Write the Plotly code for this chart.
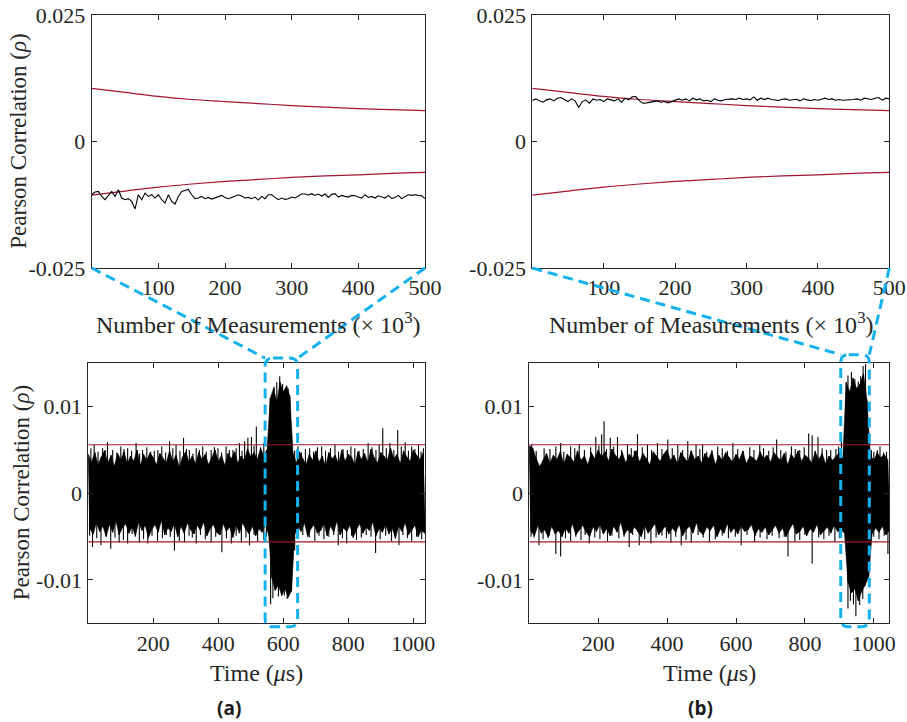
import plotly.graph_objects as go

W, H = 907, 722

# ---------------- data ----------------
# Top panels: number of measurements (x 10^3)
N_MEAS = list(range(0, 505, 5))
N_THR = [0, 50, 100, 150, 200, 250, 300, 350, 400, 450, 500]
THR_UP = [0.0105, 0.0097, 0.0089, 0.0083, 0.0079, 0.0075, 0.0071, 0.0068, 0.0065, 0.0063, 0.0061]
THR_LO = [-0.0106, -0.0098, -0.0090, -0.0084, -0.0079, -0.0075, -0.0071, -0.0068, -0.0066, -0.0063, -0.0061]

RHO_A = [-0.01052, -0.00999, -0.00987, -0.01085, -0.01150, -0.01065, -0.00987, -0.01085, -0.00953, -0.01117,
         -0.01150, -0.01130, -0.01184, -0.01334, -0.01052, -0.01150, -0.01019, -0.01085, -0.01052, -0.01117,
         -0.01052, -0.01150, -0.01216, -0.01052, -0.01184, -0.01236, -0.01085, -0.00987, -0.00973, -0.00947,
         -0.01052, -0.01130, -0.01117, -0.01085, -0.01130, -0.01105, -0.01137, -0.01117, -0.01085, -0.01065,
         -0.01105, -0.01130, -0.01105, -0.01085, -0.01052, -0.01078, -0.01117, -0.01105, -0.01130, -0.01098,
         -0.01157, -0.01085, -0.01130, -0.01052, -0.01052, -0.01105, -0.01150, -0.01117, -0.01144, -0.01130,
         -0.01098, -0.01117, -0.01078, -0.01038, -0.01038, -0.01058, -0.01032, -0.01065, -0.01038, -0.01078,
         -0.01038, -0.01105, -0.01045, -0.01032, -0.01098, -0.01065, -0.01085, -0.01098, -0.01065, -0.01072,
         -0.01098, -0.01117, -0.01052, -0.01105, -0.01085, -0.01117, -0.01072, -0.01091, -0.01117, -0.01065,
         -0.01124, -0.01105, -0.01065, -0.01130, -0.01085, -0.01052, -0.01065, -0.01052, -0.01065, -0.01072,
         -0.01130]

RHO_B = [0.00809, 0.00842, 0.00803, 0.00777, 0.00823, 0.00842, 0.00803, 0.00856, 0.00868, 0.00823,
         0.00789, 0.00842, 0.00803, 0.00671, 0.00789, 0.00823, 0.00757, 0.00842, 0.00816, 0.00829,
         0.00789, 0.00842, 0.00816, 0.00803, 0.00842, 0.00777, 0.00856, 0.00823, 0.00882, 0.00888,
         0.00803, 0.00757, 0.00763, 0.00777, 0.00789, 0.00803, 0.00777, 0.00789, 0.00763, 0.00789,
         0.00829, 0.00842, 0.00816, 0.00842, 0.00803, 0.00856, 0.00823, 0.00842, 0.00803, 0.00816,
         0.00789, 0.00842, 0.00816, 0.00803, 0.00829, 0.00836, 0.00842, 0.00829, 0.00856, 0.00829,
         0.00842, 0.00823, 0.00882, 0.00816, 0.00856, 0.00829, 0.00856, 0.00829, 0.00823, 0.00809,
         0.00836, 0.00842, 0.00816, 0.00829, 0.00836, 0.00803, 0.00842, 0.00823, 0.00809, 0.00829,
         0.00816, 0.00836, 0.00856, 0.00829, 0.00842, 0.00816, 0.00829, 0.00816, 0.00816, 0.00823,
         0.00829, 0.00842, 0.00816, 0.00856, 0.00842, 0.00829, 0.00856, 0.00868, 0.00816, 0.00856,
         0.00842]

# Bottom panels: time (us). Local maxima (at t) and minima (at t + 5 us) of the trace, every 10 us,
# in units of 1e-4
T_A = list(range(0, 1040, 10))
HI_A = [45, 36, 47, 33, 42, 49, 35, 44, 31, 46,
        39, 48, 34, 43, 37, 50, 32, 45, 38, 47,
        41, 33, 46, 40, 35, 49, 37, 44, 30, 42,
        48, 36, 43, 34, 47, 39, 45, 33, 41, 50,
        37, 44, 32, 46, 40, 48, 35, 43, 38, 51,
        42, 47, 39, 52, 44, 50,
        110, 121, 105, 128, 117, 124, 112,
        46, 35, 48, 40, 33, 45, 38, 49, 36, 43,
        31, 47, 40, 44, 34, 50, 37, 45, 42, 33,
        48, 39, 46, 36, 51, 41, 35, 47, 43, 38,
        52, 40, 45, 34, 49, 42, 37, 50, 44, 39,
        46]
LO_A = [-41, -47, -34, -44, -38, -50, -36, -45, -32, -48,
        -40, -35, -46, -39, -49, -33, -43, -37, -51, -42,
        -36, -45, -31, -48, -40, -44, -35, -50, -38, -46,
        -34, -42, -47, -37, -43, -33, -49, -41, -36, -45,
        -48, -35, -44, -39, -51, -37, -46, -34, -42, -47,
        -38, -49, -41, -45, -36, -48,
        -98, -112, -106, -118, -110, -120, -113,
        -47, -39, -44, -34, -50, -41, -36, -46, -43, -35,
        -49, -38, -45, -32, -48, -40, -44, -37, -51, -42,
        -35, -46, -39, -43, -33, -49, -41, -45, -36, -47,
        -40, -52, -38, -44, -34, -48, -42, -37, -50, -43,
        -46]
# prominent spikes: time (us) and value (units of 1e-3)
SPK_A_T = [8, 18, 44, 59, 75, 100, 121, 147, 167, 203, 226, 250, 270, 293, 311, 332, 352, 378, 399, 424,
           445, 465, 481, 491, 502, 517, 553, 565, 572, 580, 589, 598, 607, 615,
           645, 681, 718, 759, 784, 820, 861, 906, 928, 952, 975, 995, 1016, 1031,
           13, 39, 69, 95, 121, 157, 183, 213, 265, 296, 332, 378, 411, 440, 471, 496, 521,
           561, 568, 585, 603, 612, 635,
           697, 769, 795, 884, 933, 956, 995, 1026]
SPK_A_V = [5.2, 5.6, 5.2, 5.9, 5.0, 5.4, 5.2, 5.8, 5.0, 4.9, 5.4, 6.0, 5.6, 6.4, 5.0, 5.2, 5.4, 5.0, 5.2, 5.4,
           5.0, 5.8, 6.0, 6.4, 6.5, 7.7, 5.2, 11.2, 12.3, 12.8, 13.5, 12.6, 11.8, 12.1,
           5.4, 5.2, 5.4, 5.6, 5.1, 5.2, 5.8, 7.5, 5.8, 7.3, 5.9, 5.4, 5.6, 5.2,
           -6.2, -6.0, -6.4, -5.7, -5.8, -5.7, -5.8, -5.5, -6.6, -5.7, -5.8, -5.7, -6.8, -5.8, -5.7, -6.0, -5.5,
           -12.8, -12.1, -11.9, -11.8, -12.2, -6.6,
           -5.5, -6.0, -5.8, -6.9, -5.5, -6.0, -5.5, -5.3]
# smaller spikes poking out of the band
MIN_A_T = [30, 52, 88, 110, 133, 158, 180, 192, 214, 238, 260, 282, 302, 322, 342, 363, 388, 410, 434, 455,
           473, 510, 530, 540, 548, 635, 656, 668, 693, 705, 730, 745, 770, 797, 808, 833, 846, 873, 885, 895,
           917, 940, 963, 985, 1005, 1024,
           4, 26, 55, 82, 108, 135, 145, 170, 196, 228, 240, 252, 280, 310, 320, 345, 360, 392, 400, 425,
           455, 485, 510, 540, 548, 645, 660, 680, 710, 725, 740, 755, 782, 810, 825, 840, 855, 870, 898, 915,
           945, 968, 982, 1010]
MIN_A_V = [4.8, 5.0, 4.7, 5.1, 4.9, 4.6, 5.3, 4.8, 5.0, 4.7, 5.2, 4.9, 5.1, 4.6, 5.0, 4.8, 5.3, 4.7, 5.0, 5.2,
           4.9, 5.5, 5.3, 5.8, 5.0, 4.9, 4.7, 5.1, 4.8, 5.3, 4.9, 5.2, 4.8, 5.0, 5.4, 4.9, 5.1, 5.3, 5.0, 5.6,
           5.2, 5.0, 5.4, 4.9, 5.1, 4.8,
           -4.9, -5.2, -4.8, -5.1, -5.4, -4.7, -5.0, -5.3, -4.9, -5.2, -4.8, -5.0, -5.5, -4.9, -5.1, -4.8,
           -5.3, -5.0, -4.7, -5.2, -4.9, -5.1, -4.8, -5.4, -5.0, -5.2, -4.8, -5.1, -4.9, -5.3, -5.0, -4.8,
           -5.2, -4.9, -5.4, -5.1, -4.8, -5.0, -5.3, -4.9, -5.1, -4.8, -5.2, -5.0]

T_B = list(range(0, 1050, 10))
HI_B = [55, 52, 40, 31, 38, 46, 35, 44, 39, 48,
        34, 45, 41, 36, 49, 38, 43, 33, 47, 40,
        50, 42, 48, 37, 51, 44, 39, 47, 35, 45,
        41, 49, 36, 46, 40, 33, 48, 42, 37, 45,
        50, 38, 44, 34, 47, 41, 36, 49, 39, 43,
        35, 46, 40, 48, 33, 44, 38, 47, 42, 36,
        45, 39, 49, 34, 43, 41, 37, 48, 40, 44,
        36, 47, 42, 38, 46, 33, 45, 40, 49, 37,
        44, 41, 35, 48, 39, 46, 34, 43, 38, 42,
        47, 40,
        128, 117, 133, 121, 126, 138, 108,
        44, 38, 47, 41, 45, 39]
LO_B = [-44, -49, -37, -46, -42, -51, -38, -47, -43, -50,
        -40, -46, -35, -48, -42, -37, -45, -50, -39, -44,
        -36, -47, -41, -49, -38, -45, -33, -48, -42, -46,
        -39, -44, -50, -37, -46, -41, -35, -48, -43, -38,
        -47, -40, -45, -36, -49, -42, -38, -46, -34, -44,
        -48, -39, -43, -37, -50, -41, -46, -35, -45, -40,
        -47, -38, -44, -42, -36, -49, -41, -45, -39, -48,
        -43, -37, -46, -40, -50, -42, -35, -47, -44, -38,
        -49, -41, -45, -36, -48, -43, -39, -46, -37, -44,
        -42, -46,
        -102, -115, -110, -124, -113, -106, -96,
        -47, -40, -45, -38, -48, -43]
SPK_B_T = [7, 43, 77, 91, 120, 145, 193, 210, 217, 235, 256, 285, 314, 343, 372, 402, 431, 460, 484, 503,
           547, 591, 640, 669, 718, 761, 785, 811, 821, 838, 863, 906, 925, 935, 945, 955, 962, 969, 976,
           993, 1018, 1037,
           14, 28, 77, 91, 120, 174, 227, 290, 319, 353, 411, 441, 470, 523, 615, 654, 751, 771, 821,
           887, 925, 932, 941, 948, 959, 968, 1041]
SPK_B_V = [5.7, 5.2, 5.4, 5.8, 5.4, 5.7, 6.5, 6.8, 8.3, 6.4, 6.5, 5.6, 6.8, 5.6, 5.8, 6.2, 5.6, 6.0, 5.6, 5.6,
           5.4, 5.8, 5.3, 5.6, 6.2, 5.4, 5.0, 6.9, 6.7, 6.5, 5.0, 6.7, 13.6, 14.0, 13.2, 12.9, 13.5, 14.7, 14.9,
           5.0, 5.4, 4.8,
           -5.1, -6.0, -7.0, -7.3, -5.5, -5.8, -5.5, -6.2, -6.0, -5.8, -5.7, -6.0, -5.7, -5.6, -6.0, -5.6,
           -7.3, -5.6, -8.1, -5.6, -13.3, -12.4, -12.8, -14.2, -12.9, -12.2, -7.0]
MIN_B_T = [20, 60, 100, 132, 160, 178, 202, 224, 245, 268, 296, 305, 328, 355, 385, 395, 415, 445, 470, 495,
           515, 530, 560, 575, 605, 620, 652, 680, 695, 708, 730, 745, 772, 798, 830, 850, 875, 890, 898, 1000,
           1010, 1028,
           5, 40, 58, 105, 135, 150, 162, 190, 205, 240, 260, 275, 300, 335, 368, 385, 398, 425, 455, 490,
           505, 540, 560, 578, 598, 632, 670, 690, 705, 725, 740, 785, 800, 840, 855, 870, 900, 1000, 1015, 1030]
MIN_B_V = [4.9, 5.1, 4.8, 5.2, 5.0, 5.3, 5.5, 5.1, 5.4, 5.0, 5.2, 4.9, 5.3, 5.0, 5.1, 4.8, 5.2, 5.0, 4.9, 5.1,
           4.8, 5.0, 5.2, 4.9, 5.1, 4.8, 5.0, 5.2, 4.9, 5.3, 5.0, 4.8, 5.1, 5.3, 4.9, 5.2, 5.0, 5.1, 5.4, 4.8,
           5.0, 4.7,
           -5.0, -5.3, -4.9, -5.2, -5.0, -5.4, -4.8, -5.1, -5.3, -4.9, -5.2, -5.0, -4.8, -5.3, -5.1, -4.9,
           -5.2, -5.0, -5.4, -4.8, -5.1, -5.3, -4.9, -5.2, -5.0, -4.8, -5.1, -5.3, -4.9, -5.2, -5.0, -5.4,
           -4.8, -5.1, -5.3, -4.9, -5.2, -5.0, -5.3, -4.9]

ENV_UNIT = 1e-4          # HI_*/LO_* lists
SPK_UNIT = 1e-3          # SPK_*_V and MIN_*_V lists
THRESH_A = 0.0056
THRESH_B = 0.0056

# highlighted windows (us) and their vertical extent (rho)
WIN_A = (544, 644, 0.0156, -0.0154)
WIN_B = (904, 987, 0.0160, -0.0154)

# ---------------- layout geometry (pixels) ----------------
DOM = {
    "TL": ((91.7, 425.0), (15.0, 268.0)),
    "TR": ((532.3, 889.3), (15.0, 268.0)),
    "BL": ((88.3, 425.0), (363.3, 623.3)),
    "BR": ((529.3, 889.3), (363.3, 623.3)),
}
RNG = {
    "TL": ((0, 500), (-0.025, 0.025)),
    "TR": ((0, 500), (-0.025, 0.025)),
    "BL": ((0, 1036), (-0.015, 0.015)),
    "BR": ((0, 1045), (-0.015, 0.015)),
}
AX = {"TL": "", "TR": "2", "BL": "3", "BR": "4"}

def px2paper(x, y):
    return x / W, 1 - y / H

def data2px(panel, xv, yv):
    (dx0, dx1), (dy0, dy1) = DOM[panel]
    (rx0, rx1), (ry0, ry1) = RNG[panel]
    px = dx0 + (xv - rx0) / (rx1 - rx0) * (dx1 - dx0)
    py = dy1 - (yv - ry0) / (ry1 - ry0) * (dy1 - dy0)
    return px, py

RED = "#A2142F"
CYAN = "#14B1EE"
SERIF = "Liberation Serif"
AXCOL = "#262626"

fig = go.Figure()

def add(tr, panel):
    s = AX[panel]
    tr.update(xaxis="x" + s, yaxis="y" + s)
    fig.add_trace(tr)

# top panels
for panel, rho in (("TL", RHO_A), ("TR", RHO_B)):
    add(go.Scatter(x=N_THR, y=THR_UP, mode="lines", line=dict(color=RED, width=1.2, shape="spline"),
                   hoverinfo="skip"), panel)
    add(go.Scatter(x=N_THR, y=THR_LO, mode="lines", line=dict(color=RED, width=1.2, shape="spline"),
                   hoverinfo="skip"), panel)
    add(go.Scatter(x=N_MEAS, y=rho, mode="lines", line=dict(color="black", width=1.1),
                   hoverinfo="skip"), panel)

# bottom panels
for panel, T, HI, LO, ST, SV, TH in (("BL", T_A, HI_A, LO_A, SPK_A_T + MIN_A_T, SPK_A_V + MIN_A_V, THRESH_A),
                                      ("BR", T_B, HI_B, LO_B, SPK_B_T + MIN_B_T, SPK_B_V + MIN_B_V, THRESH_B)):
    # dense band (filled between the maxima and minima)
    bx = list(T) + [t + 5 for t in T][::-1]
    by = [h * ENV_UNIT for h in HI] + [l * ENV_UNIT for l in LO][::-1]
    add(go.Scatter(x=bx, y=by, mode="lines", fill="toself", fillcolor="black",
                   line=dict(color="black", width=0.6), hoverinfo="skip"), panel)
    # the trace itself, zig-zagging between the maxima and minima
    xs, ys = [], []
    for t, h, l in zip(T, HI, LO):
        xs += [t, t + 5]
        ys += [h * ENV_UNIT, l * ENV_UNIT]
    add(go.Scatter(x=xs, y=ys, mode="lines", line=dict(color="black", width=1.2),
                   hoverinfo="skip"), panel)
    xs, ys = [], []
    for t, v in zip(ST, SV):
        xs += [t, t, None]
        ys += [0, v * SPK_UNIT, None]
    add(go.Scatter(x=xs, y=ys, mode="lines", line=dict(color="black", width=1.1),
                   hoverinfo="skip"), panel)
    xr = RNG[panel][0]
    add(go.Scatter(x=[xr[0], xr[1]], y=[TH, TH], mode="lines", line=dict(color=RED, width=1.2),
                   hoverinfo="skip"), panel)
    add(go.Scatter(x=[xr[0], xr[1]], y=[-TH, -TH], mode="lines", line=dict(color=RED, width=1.2),
                   hoverinfo="skip"), panel)

# axes
tickfont = dict(family=SERIF, size=22, color=AXCOL)
layout_axes = {}
for panel in ("TL", "TR", "BL", "BR"):
    s = AX[panel]
    (dx0, dx1), (dy0, dy1) = DOM[panel]
    (rx0, rx1), (ry0, ry1) = RNG[panel]
    if panel in ("TL", "TR"):
        xt = [100, 200, 300, 400, 500]
        yt, ytt = [-0.025, 0, 0.025], ["-0.025", "0", "0.025"]
    else:
        xt = [200, 400, 600, 800, 1000]
        yt, ytt = [-0.01, 0, 0.01], ["-0.01", "0", "0.01"]
    common = dict(showgrid=False, zeroline=False, showline=True, linecolor=AXCOL, linewidth=1,
                  mirror="ticks", ticks="inside", ticklen=5, tickcolor=AXCOL, tickwidth=1,
                  tickfont=tickfont, fixedrange=True, automargin=False)
    layout_axes["xaxis" + s] = dict(domain=[dx0 / W, dx1 / W], range=[rx0, rx1], tickvals=xt,
                                    ticktext=[str(v) for v in xt], anchor="y" + s,
                                    ticklabelstandoff=0, **common)
    layout_axes["yaxis" + s] = dict(domain=[1 - dy1 / H, 1 - dy0 / H], range=[ry0, ry1], tickvals=yt,
                                    ticktext=ytt, anchor="x" + s, ticklabelstandoff=1, **common)

# highlight shapes
shapes = []
def rounded_rect(x0, y0, x1, y1, r):
    def P(x, y):
        px, py = px2paper(x, y)
        return f"{px:.5f},{py:.5f}"
    d = (f"M {P(x0 + r, y0)} L {P(x1 - r, y0)} Q {P(x1, y0)} {P(x1, y0 + r)} "
         f"L {P(x1, y1 - r)} Q {P(x1, y1)} {P(x1 - r, y1)} L {P(x0 + r, y1)} "
         f"Q {P(x0, y1)} {P(x0, y1 - r)} L {P(x0, y0 + r)} Q {P(x0, y0)} {P(x0 + r, y0)} Z")
    return d

for top, bot, win in (("TL", "BL", WIN_A), ("TR", "BR", WIN_B)):
    t0, t1, yh, yl = win
    x0, y0 = data2px(bot, t0, yh)
    x1, y1 = data2px(bot, t1, yl)
    line = dict(color=CYAN, width=3, dash="10px,6px")
    shapes.append(dict(type="path", xref="paper", yref="paper", path=rounded_rect(x0, y0, x1, y1, 8),
                       line=line, layer="above"))
    (tx0, tx1), (ty0, ty1) = DOM[top]
    for (ax_, ay_), (bx_, by_) in (((tx0, ty1), (x0, y0)), ((tx1, ty1), (x1, y0))):
        a = px2paper(ax_, ay_)
        b = px2paper(bx_, by_)
        shapes.append(dict(type="line", xref="paper", yref="paper", x0=a[0], y0=a[1], x1=b[0], y1=b[1],
                           line=line, layer="above"))

# texts
xlab = dict(family=SERIF, size=24, color=AXCOL)
ylab = dict(family=SERIF, size=23, color=AXCOL)
def ann(text, x, y, angle=0, font=xlab):
    px, py = px2paper(x, y)
    return dict(text=text, x=px, y=py, xref="paper", yref="paper", showarrow=False,
                textangle=angle, font=font, xanchor="center", yanchor="middle")

annotations = [
    ann("Pearson Correlation (<i>ρ</i>)", 19, 141.7, -90, ylab),
    ann("Pearson Correlation (<i>ρ</i>)", 21, 493.3, -90, ylab),
    ann("Number of Measurements (× 10<sup>3</sup>)", 258, 323),
    ann("Number of Measurements (× 10<sup>3</sup>)", 711, 323),
    ann("Time (<i>μ</i>s)", 256.5, 673),
    ann("Time (<i>μ</i>s)", 709, 673),
    ann("<b>(a)</b>", 229, 708, 0, dict(family="Open Sans", size=19, color="#1a1a1a")),
    ann("<b>(b)</b>", 700, 708, 0, dict(family="Open Sans", size=19, color="#1a1a1a")),
]

fig.update_layout(width=W, height=H, margin=dict(l=0, r=0, t=0, b=0), showlegend=False,
                  paper_bgcolor="white", plot_bgcolor="white", shapes=shapes,
                  annotations=annotations, **layout_axes)

fig.write_html("out.html")
